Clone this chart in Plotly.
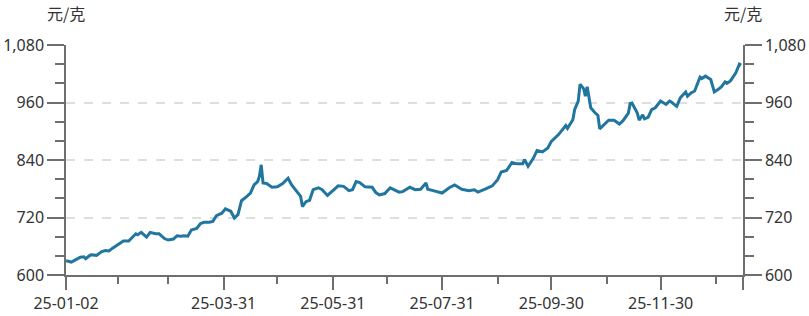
import plotly.graph_objects as go

# ---- data ----
dates = [
    "2025-01-02", "2025-01-05", "2025-01-07", "2025-01-10", "2025-01-12", "2025-01-13", "2025-01-15", "2025-01-16", "2025-01-19", "2025-01-22",
    "2025-01-24", "2025-01-26", "2025-01-28", "2025-01-31", "2025-02-03", "2025-02-06", "2025-02-08", "2025-02-10", "2025-02-11", "2025-02-13",
    "2025-02-16", "2025-02-18", "2025-02-21", "2025-02-23", "2025-02-26", "2025-02-28", "2025-03-03", "2025-03-05", "2025-03-07", "2025-03-09",
    "2025-03-11", "2025-03-13", "2025-03-16", "2025-03-18", "2025-03-20", "2025-03-23", "2025-03-25", "2025-03-27", "2025-03-30", "2025-04-01",
    "2025-04-04", "2025-04-06", "2025-04-08", "2025-04-10", "2025-04-13", "2025-04-15", "2025-04-17", "2025-04-19", "2025-04-20", "2025-04-21",
    "2025-04-22", "2025-04-24", "2025-04-27", "2025-04-30", "2025-05-03", "2025-05-04", "2025-05-06", "2025-05-08", "2025-05-11", "2025-05-13",
    "2025-05-14", "2025-05-16", "2025-05-18", "2025-05-20", "2025-05-23", "2025-05-25", "2025-05-28", "2025-05-31", "2025-06-03", "2025-06-06",
    "2025-06-09", "2025-06-11", "2025-06-13", "2025-06-15", "2025-06-18", "2025-06-22", "2025-06-24", "2025-06-26", "2025-06-29", "2025-07-02",
    "2025-07-04", "2025-07-07", "2025-07-09", "2025-07-13", "2025-07-16", "2025-07-19", "2025-07-22", "2025-07-23", "2025-07-26", "2025-07-31",
    "2025-08-04", "2025-08-07", "2025-08-11", "2025-08-15", "2025-08-18", "2025-08-20", "2025-08-24", "2025-08-28", "2025-08-31", "2025-09-02",
    "2025-09-05", "2025-09-08", "2025-09-11", "2025-09-14", "2025-09-15", "2025-09-17", "2025-09-20", "2025-09-22", "2025-09-25", "2025-09-28",
    "2025-09-30", "2025-10-04", "2025-10-08", "2025-10-09", "2025-10-12", "2025-10-13", "2025-10-15", "2025-10-16", "2025-10-18", "2025-10-19",
    "2025-10-20", "2025-10-21", "2025-10-22", "2025-10-24", "2025-10-26", "2025-10-27", "2025-10-30", "2025-11-01", "2025-11-04", "2025-11-07",
    "2025-11-09", "2025-11-12", "2025-11-13", "2025-11-14", "2025-11-17", "2025-11-18", "2025-11-20", "2025-11-21", "2025-11-23", "2025-11-25",
    "2025-11-27", "2025-11-30", "2025-12-03", "2025-12-05", "2025-12-06", "2025-12-09", "2025-12-11", "2025-12-14", "2025-12-15", "2025-12-17",
    "2025-12-19", "2025-12-22", "2025-12-23", "2025-12-25", "2025-12-28", "2025-12-30", "2026-01-01", "2026-01-03", "2026-01-05", "2026-01-06",
    "2026-01-08", "2026-01-11", "2026-01-13", "2026-01-14",
]
prices = [
    630, 627, 631, 637, 638, 634, 640, 642, 641, 649,
    651, 650, 656, 663, 671, 671, 679, 686, 684, 689,
    679, 689, 686, 686, 676, 673, 675, 682, 681, 682,
    681, 694, 697, 707, 710, 710, 712, 724, 729, 738,
    733, 719, 726, 755, 764, 771, 788, 795, 806, 830,
    792, 791, 783, 784, 791, 795, 802, 788, 774, 764,
    743, 753, 756, 778, 782, 778, 766, 776, 786, 785,
    776, 778, 795, 793, 784, 783, 772, 767, 770, 782,
    778, 773, 774, 783, 778, 779, 792, 779, 776, 771,
    782, 788, 779, 776, 778, 773, 779, 786, 799, 815,
    818, 835, 832, 832, 841, 827, 844, 860, 857, 865,
    879, 893, 912, 906, 924, 945, 963, 998, 989, 973,
    993, 970, 949, 940, 933, 905, 916, 923, 923, 915,
    922, 938, 958, 959, 938, 923, 934, 926, 929, 945,
    949, 963, 956, 963, 961, 952, 970, 982, 973, 980,
    984, 1013, 1010, 1015, 1008, 982, 987, 993, 1003, 1000,
    1005, 1022, 1040, 1038,
]

x_range = ["2025-01-02", "2026-01-15"]
x_major_vals = ["2025-01-02", "2025-03-31", "2025-05-31", "2025-07-31", "2025-09-30", "2025-11-30", "2026-01-15"]
x_major_text = ["25-01-02", "25-03-31", "25-05-31", "25-07-31", "25-09-30", "25-11-30", ""]
x_minor_vals = ["2025-01-31", "2025-02-28", "2025-04-30", "2025-06-30", "2025-08-31", "2025-10-31", "2025-12-31"]
y_range = [600, 1080]
y_ticks = [600, 720, 840, 960, 1080]
unit_label = "元/克"

AXIS = "#6e6e6e"
TEXT = "#333333"
FONT = "Noto Sans, Noto Sans CJK SC, sans-serif"

fig = go.Figure()
fig.add_trace(go.Scatter(
    x=dates, y=prices, mode="lines",
    line=dict(color="#21769f", width=3),
    showlegend=False, hoverinfo="x+y",
))
# invisible trace to activate the right-hand axis
fig.add_trace(go.Scatter(
    x=dates, y=prices, mode="lines", yaxis="y2",
    line=dict(color="rgba(0,0,0,0)", width=0),
    showlegend=False, hoverinfo="skip",
))

yaxis_common = dict(
    range=y_range, tickmode="array", tickvals=y_ticks, tickformat=",d",
    showline=True, linecolor=AXIS, linewidth=1.5,
    ticks="outside", ticklen=17, tickwidth=1.5, tickcolor=AXIS,
    minor=dict(dtick=40, tick0=600, ticks="outside", ticklen=9,
               tickwidth=1.5, tickcolor=AXIS, showgrid=False),
    tickfont=dict(size=16, color=TEXT, family=FONT),
    zeroline=False, fixedrange=True, automargin=False,
)

fig.update_layout(
    width=809, height=316,
    margin=dict(l=66, r=66, t=45, b=41),
    paper_bgcolor="white", plot_bgcolor="white",
    font=dict(family=FONT, size=16, color=TEXT),
    xaxis=dict(
        type="date", range=x_range,
        tickmode="array", tickvals=x_major_vals, ticktext=x_major_text,
        showline=True, linecolor=AXIS, linewidth=1.5,
        ticks="outside", ticklen=13, tickwidth=1.5, tickcolor=AXIS,
        minor=dict(tickmode="array", tickvals=x_minor_vals, ticks="outside",
                   ticklen=7, tickwidth=1.5, tickcolor=AXIS, showgrid=False),
        showgrid=False, zeroline=False, automargin=False,
        tickfont=dict(size=16, color=TEXT, family=FONT),
    ),
    yaxis=dict(
        **yaxis_common, side="left",
        showgrid=True, gridcolor="#dedede", gridwidth=1.5, griddash="dash",
    ),
    yaxis2=dict(
        **yaxis_common, side="right", overlaying="y", showgrid=False,
    ),
    annotations=[
        dict(text=unit_label, xref="paper", yref="paper", x=0, y=1,
             xanchor="center", yanchor="bottom", yshift=18, showarrow=False,
             font=dict(size=16, color=TEXT, family="Noto Sans CJK SC")),
        dict(text=unit_label, xref="paper", yref="paper", x=1, y=1,
             xanchor="center", yanchor="bottom", yshift=18, showarrow=False,
             font=dict(size=16, color=TEXT, family="Noto Sans CJK SC")),
    ],
)

fig.write_html("out.html")
